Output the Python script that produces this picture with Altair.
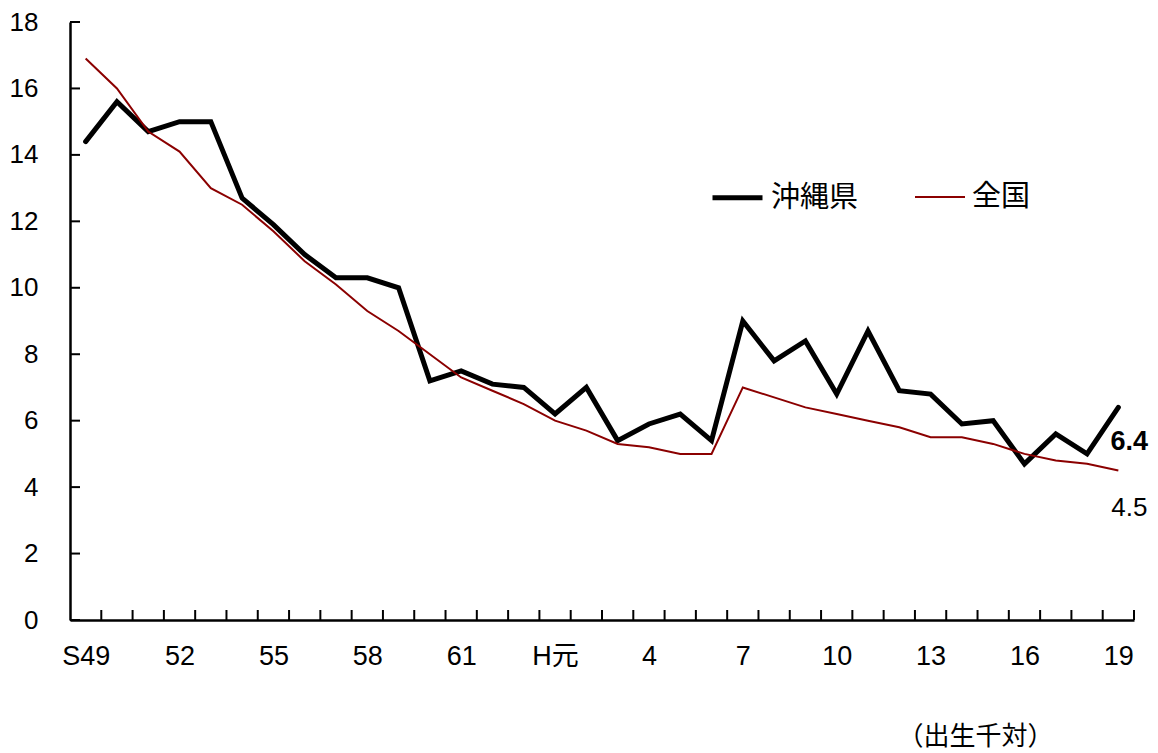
import altair as alt
import pandas as pd

labels = ["S49"] + [str(y) for y in range(50, 64)] + ["H元"] + [str(y) for y in range(2, 20)]
okinawa = [14.4, 15.6, 14.7, 15.0, 15.0, 12.7, 11.9, 11.0, 10.3, 10.3, 10.0, 7.2, 7.5, 7.1, 7.0,
           6.2, 7.0, 5.4, 5.9, 6.2, 5.4, 9.0, 7.8, 8.4, 6.8, 8.7, 6.9, 6.8, 5.9, 6.0, 4.7, 5.6, 5.0, 6.4]
national = [16.9, 16.0, 14.7, 14.1, 13.0, 12.5, 11.7, 10.8, 10.1, 9.3, 8.7, 8.0, 7.3, 6.9, 6.5,
            6.0, 5.7, 5.3, 5.2, 5.0, 5.0, 7.0, 6.7, 6.4, 6.2, 6.0, 5.8, 5.5, 5.5, 5.3, 5.0, 4.8, 4.7, 4.5]
series_names = ["沖縄県", "全国"]
tick_label_values = list(range(0, 34, 3))
y_ticks = list(range(0, 19, 2))

FONT = "Liberation Sans, Noto Sans CJK JP, sans-serif"
CJK = "Noto Sans CJK JP"

n = len(labels)
df = pd.DataFrame({
    "i": list(range(n)) * 2,
    "label": labels * 2,
    "value": okinawa + national,
    "series": [series_names[0]] * n + [series_names[1]] * n,
})
df_ok = df[df.series == series_names[0]]
df_na = df[df.series == series_names[1]]

W, H = 1064, 598

label_expr = "[" + ",".join(f"'{l}'" for l in labels) + "][datum.value]"

x = alt.X("i:Q", scale=alt.Scale(domain=[-0.5, n - 0.5], nice=False, zero=False),
          axis=alt.Axis(values=tick_label_values, labelExpr=label_expr, ticks=False, grid=False,
                        labelFontSize=27, labelFont=FONT, labelColor="black", labelPadding=23,
                        domainColor="black", domainWidth=2.5, labelFlush=False,
                        title="（出生千対）", titleFont=CJK, titleFontSize=26, titleFontWeight="normal",
                        titleColor="black", titleX=905, titleY=116, titleAnchor="middle",
                        titleBaseline="middle"))
y = alt.Y("value:Q", scale=alt.Scale(domain=[0, 18], nice=False),
          axis=alt.Axis(values=y_ticks, ticks=False, grid=False, labelFontSize=26, labelFont=FONT,
                        labelColor="black", labelPadding=32, domainColor="black", domainWidth=2.5,
                        title=None))

color = alt.Color("series:N", scale=alt.Scale(domain=series_names, range=["black", "#8B0000"]),
                  legend=alt.Legend(title=None, orient="none", legendX=640, legendY=148,
                                    direction="horizontal", symbolType="stroke", symbolSize=2500,
                                    labelFont=CJK, labelFontSize=29, labelColor="black",
                                    labelOffset=6, columnPadding=52, padding=0))
sw = alt.StrokeWidth("series:N", scale=alt.Scale(domain=series_names, range=[5, 2]), legend=None)

line_ok = alt.Chart(df_ok).mark_line(strokeCap="round", strokeJoin="miter").encode(
    x=x, y=y, color=color, strokeWidth=sw)
line_na = alt.Chart(df_na).mark_line(strokeJoin="miter").encode(
    x=x, y=y, color=color, strokeWidth=sw)

# x-axis ticks between categories (inward)
bounds = pd.DataFrame({"b": [k + 0.5 for k in range(n)]})
xticks = alt.Chart(bounds).mark_rule(color="black", strokeWidth=2).encode(
    x="b:Q", y=alt.value(H), y2=alt.value(H - 10))

# y-axis ticks (inward)
yt = pd.DataFrame({"v": y_ticks})
yticks = alt.Chart(yt).mark_rule(color="black", strokeWidth=2).encode(
    y="v:Q", x=alt.value(0), x2=alt.value(10))

last = pd.DataFrame({
    "i": [n - 1, n - 1],
    "value": [okinawa[-1], national[-1]],
    "txt": [f"{okinawa[-1]:.1f}", f"{national[-1]:.1f}"],
})
lab_ok = alt.Chart(last.iloc[[0]]).mark_text(font=FONT, fontSize=27, fontWeight="bold", dx=11, dy=35,
                                             color="black").encode(x="i:Q", y="value:Q", text="txt:N")
lab_na = alt.Chart(last.iloc[[1]]).mark_text(font=FONT, fontSize=26, dx=11, dy=37,
                                             color="black").encode(x="i:Q", y="value:Q", text="txt:N")

chart = alt.layer(line_ok, line_na, xticks, yticks, lab_ok, lab_na).resolve_scale(
    color="shared", strokeWidth="shared"
).properties(
    width=W, height=H,
    autosize=alt.AutoSizeParams(type="none"),
    padding={"left": 62, "top": 14, "right": 16, "bottom": 131},
    background="white",
).configure_view(stroke=None)

chart.save("out.html", embed_options={"renderer": "svg", "actions": False})
